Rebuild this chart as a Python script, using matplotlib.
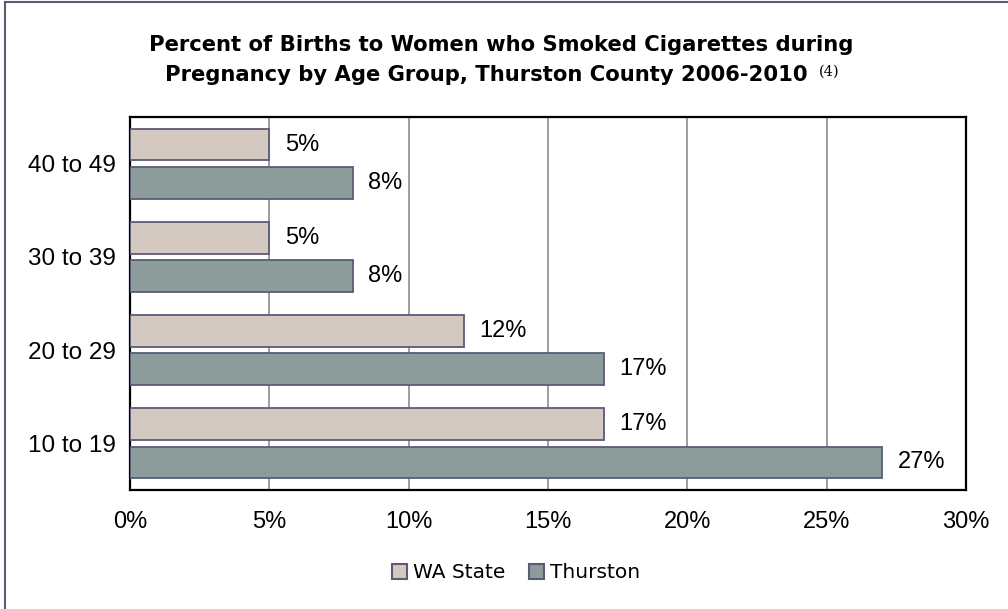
import matplotlib.pyplot as plt
import numpy as np

ages = ["10 to 19", "20 to 29", "30 to 39", "40 to 49"]
wa_state = [17, 12, 5, 5]
thurston = [27, 17, 8, 8]
xticks = [0, 5, 10, 15, 20, 25, 30]

WA_COLOR = "#d4c9c1"
TH_COLOR = "#8b9c9a"
EDGE = "#5b5b78"

fig = plt.figure(figsize=(10.08, 6.09), dpi=100)
ax = fig.add_axes([130 / 1008, 1 - 490 / 609, 836 / 1008, 373 / 609])

y = np.arange(len(ages))
h = 0.34
off = 0.205
ax.barh(y + off, wa_state, h, color=WA_COLOR, edgecolor=EDGE, linewidth=1.3,
        label="WA State", zorder=3)
ax.barh(y - off, thurston, h, color=TH_COLOR, edgecolor=EDGE, linewidth=1.3,
        label="Thurston", zorder=3)

for yy, v in zip(y + off, wa_state):
    ax.text(v + 0.55, yy, f"{v}%", va="center", ha="left", fontsize=17,
            family="Liberation Sans")
for yy, v in zip(y - off, thurston):
    ax.text(v + 0.55, yy, f"{v}%", va="center", ha="left", fontsize=17,
            family="Liberation Sans")

ax.set_xlim(0, 30)
ax.set_ylim(-0.5, len(ages) - 0.5)
ax.set_xticks(xticks)
ax.set_xticklabels([f"{t}%" for t in xticks], family="Liberation Sans", fontsize=17)
ax.set_yticks(y)
ax.set_yticklabels(ages, family="Liberation Sans", fontsize=17.5)
ax.tick_params(length=0, pad=10)
ax.tick_params(axis="x", pad=15)
ax.xaxis.grid(True, color="#8c8c8c", linewidth=1.2, zorder=0)
ax.set_axisbelow(True)
for s in ax.spines.values():
    s.set_color("black")
    s.set_linewidth(1.6)

# title
tfont = dict(family="DejaVu Sans", fontweight="bold", fontsize=15.2, ha="center", va="center")
fig.text(501 / 1008, 1 - 45 / 609, "Percent of Births to Women who Smoked Cigarettes during", **tfont)
t2 = fig.text(486 / 1008, 1 - 75 / 609, "Pregnancy by Age Group, Thurston County 2006-2010", **tfont)
ax.annotate("(4)", xy=(1, 0.65), xycoords=t2, xytext=(8, 0), textcoords="offset points",
            ha="left", va="center", fontsize=10.5, family="DejaVu Serif")

leg = fig.legend(loc="center", bbox_to_anchor=(516 / 1008, 1 - 573 / 609), ncol=2,
                 frameon=False, prop={"family": "DejaVu Sans", "size": 14.5},
                 handlelength=0.75, handleheight=0.75, handletextpad=0.3, columnspacing=1.2)
for p in leg.get_patches():
    p.set_linewidth(1.5)

# frame lines on top and left of the figure
fig.add_artist(plt.Line2D([5 / 1008, 5 / 1008], [0, 1 - 2 / 609], color=EDGE, linewidth=1.5))
fig.add_artist(plt.Line2D([5 / 1008, 1], [1 - 2 / 609, 1 - 2 / 609], color=EDGE, linewidth=1.5))

fig.savefig("out.png", dpi=100)
